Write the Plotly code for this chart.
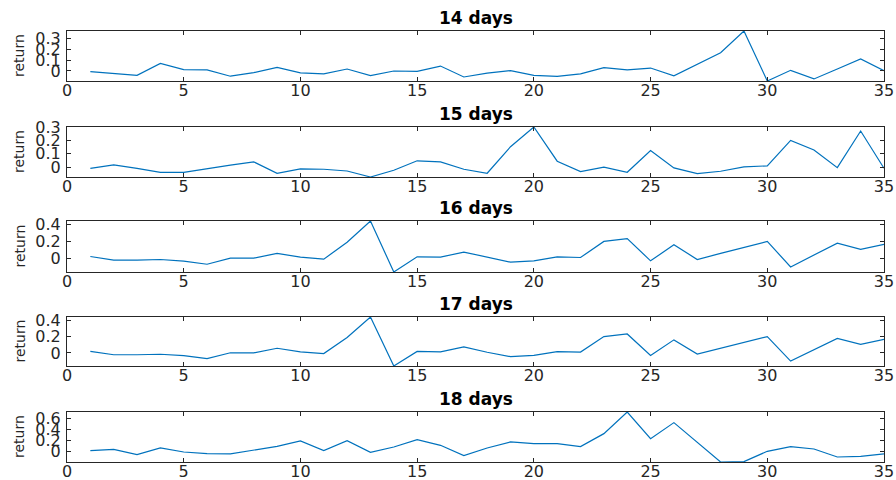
import plotly.graph_objects as go
from plotly.subplots import make_subplots

days = list(range(1, 36))
titles = ["14 days", "15 days", "16 days", "17 days", "18 days"]

ret_14 = [-0.006, -0.02, -0.04, 0.07, 0.012, 0.01, -0.048, -0.015, 0.033, -0.018,
          -0.027, 0.018, -0.042, 0.0, -0.003, 0.045, -0.055, -0.02, 0.003, -0.04,
          -0.05, -0.027, 0.03, 0.01, 0.027, -0.045, 0.058, 0.167, 0.367, -0.092,
          0.006, -0.073, 0.018, 0.11, 0.003]
ret_15 = [-0.008, 0.018, -0.008, -0.038, -0.038, -0.01, 0.015, 0.04, -0.045, -0.013,
          -0.015, -0.028, -0.073, -0.023, 0.048, 0.04, -0.015, -0.045, 0.153, 0.3,
          0.045, -0.033, 0.0, -0.038, 0.125, -0.005, -0.048, -0.03, 0.003, 0.01,
          0.2, 0.128, -0.003, 0.27, -0.008]
ret_16 = [0.02, -0.024, -0.024, -0.016, -0.036, -0.073, 0.0, 0.0, 0.057, 0.012,
          -0.012, 0.19, 0.445, -0.166, 0.016, 0.012, 0.073, 0.008, -0.048, -0.032,
          0.016, 0.008, 0.2, 0.234, -0.032, 0.16, -0.016, 0.057, 0.13, 0.2,
          -0.105, 0.036, 0.18, 0.105, 0.165]
ret_17 = [0.02, -0.022, -0.022, -0.016, -0.034, -0.07, 0.002, 0.0, 0.057, 0.014,
          -0.008, 0.19, 0.44, -0.16, 0.018, 0.014, 0.075, 0.008, -0.046, -0.03,
          0.016, 0.01, 0.2, 0.232, -0.03, 0.16, -0.014, 0.057, 0.13, 0.2,
          -0.1, 0.036, 0.178, 0.105, 0.165]
ret_18 = [0.018, 0.042, -0.055, 0.067, -0.006, -0.036, -0.042, 0.03, 0.097, 0.194,
          0.018, 0.2, -0.012, 0.085, 0.218, 0.115, -0.073, 0.067, 0.176, 0.145,
          0.145, 0.091, 0.327, 0.72, 0.236, 0.527, 0.164, -0.188, -0.182, 0.006,
          0.091, 0.048, -0.097, -0.085, -0.042]

series = [ret_14, ret_15, ret_16, ret_17, ret_18]
ytick_sets = [[0, 0.1, 0.2, 0.3], [0, 0.1, 0.2, 0.3], [0, 0.2, 0.4], [0, 0.2, 0.4], [0, 0.2, 0.4, 0.6]]
xticks = [0, 5, 10, 15, 20, 25, 30, 35]

W, H = 896, 480
tops = [31, 127, 221, 317, 412]
bottoms = [81, 177, 272, 366, 462]

fig = make_subplots(rows=5, cols=1)
axcol = "#262626"
font_tick = dict(family="DejaVu Sans", size=16, color=axcol)

for i, vals in enumerate(series):
    r = i + 1
    fig.add_trace(go.Scatter(x=days, y=vals, mode="lines",
                             line=dict(color="#0072BD", width=1.2),
                             showlegend=False), row=r, col=1)
    dom = [1 - bottoms[i] / H, 1 - tops[i] / H]
    xa = "xaxis" if r == 1 else f"xaxis{r}"
    ya = "yaxis" if r == 1 else f"yaxis{r}"
    fig.layout[xa].update(range=[0, 35], tickvals=xticks, ticktext=[str(t) for t in xticks],
                          ticks="inside", ticklen=4, tickcolor=axcol, showline=True,
                          linecolor=axcol, linewidth=1, mirror="ticks", showgrid=False,
                          zeroline=False, tickfont=font_tick, automargin=False,
                          ticklabelstandoff=-5)
    fig.layout[ya].update(domain=dom, range=[min(vals), max(vals)], tickvals=ytick_sets[i],
                          ticktext=[("0" if t == 0 else f"{t:g}") for t in ytick_sets[i]],
                          ticks="inside", ticklen=4, tickcolor=axcol, showline=True,
                          linecolor=axcol, linewidth=1, mirror="ticks", showgrid=False,
                          zeroline=False, tickfont=font_tick, automargin=False,
                          ticklabelstandoff=2)
    fig.add_annotation(text="<b>" + titles[i] + "</b>", xref="paper", yref="paper",
                       x=0.5, y=dom[1], xanchor="center", yanchor="bottom", yshift=1,
                       showarrow=False, font=dict(family="DejaVu Sans", size=17, color="black"))
    fig.add_annotation(text="return", xref="paper", yref="paper", x=0, y=(dom[0] + dom[1]) / 2,
                       xanchor="center", yanchor="middle", xshift=-48, textangle=-90,
                       showarrow=False, font=dict(family="DejaVu Sans", size=14, color=axcol))

fig.update_layout(width=W, height=H, margin=dict(l=67, r=12, t=0, b=0),
                  plot_bgcolor="white", paper_bgcolor="white")
fig.write_html("out.html")
